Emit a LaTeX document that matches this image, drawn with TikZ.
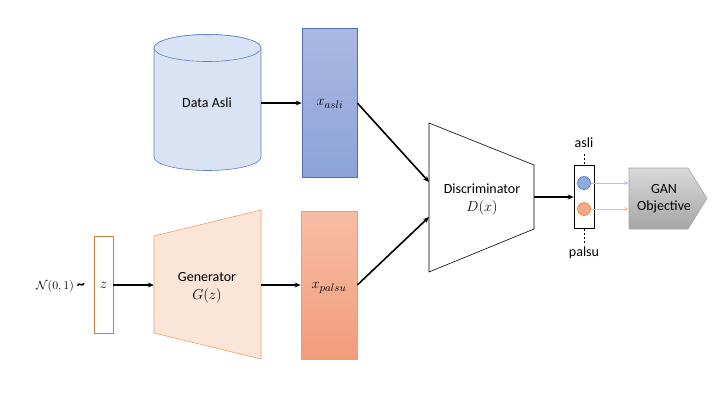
\documentclass[tikz,border=0pt]{standalone}
\usepackage{fontspec}
\setmainfont{Carlito}
\usetikzlibrary{arrows.meta,shapes.geometric}
\definecolor{cylfill}{HTML}{DAE3F3}
\definecolor{cylline}{HTML}{5B80C6}
\definecolor{realtop}{HTML}{AAB9E2}
\definecolor{realbot}{HTML}{8CA3D9}
\definecolor{realline}{HTML}{4F6EB5}
\definecolor{genfill}{HTML}{FBE5D6}
\definecolor{genline}{HTML}{F0A070}
\definecolor{faketop}{HTML}{F6BEA5}
\definecolor{fakebot}{HTML}{F39C7A}
\definecolor{fakeline}{HTML}{E8A070}
\definecolor{zline}{HTML}{D08040}
\definecolor{dotblue}{HTML}{8FAADC}
\definecolor{dotblueline}{HTML}{4472C4}
\definecolor{dotorange}{HTML}{F4A988}
\definecolor{dotorangeline}{HTML}{ED7D31}
\definecolor{ganline}{HTML}{A6A6A6}
\tikzset{
  lbl/.style={font=\fontsize{14}{16}\selectfont, align=center, inner sep=0pt},
  mlbl/.style={font=\fontsize{15}{18}\selectfont, align=center, inner sep=0pt},
  conn/.style={-{Stealth[length=6pt,width=5pt]}, line width=1.6pt, black},
  thinconn/.style={-{Stealth[length=5pt,width=4pt]}, line width=1pt},
  anchorbox/.style={draw=none, inner sep=0pt, minimum width=#1},
  dot/.style={circle, minimum size=13pt, inner sep=0pt, line width=0.6pt}
}
\begin{document}
\begin{tikzpicture}[x=1pt,y=1pt]
\useasboundingbox (0,0) rectangle (720,-405);
\fill[white] (0,0) rectangle (720,-405);

% Cylinder "Data Asli"
\path[fill=cylfill, draw=cylline, line width=0.6pt]
  (154,-48) -- (154,-157) arc[start angle=180, end angle=360, x radius=53.5pt, y radius=13.5pt]
  -- (261,-48) arc[start angle=0, end angle=180, x radius=53.5pt, y radius=13.5pt] -- cycle;
\draw[fill=cylfill, draw=cylline, line width=0.6pt] (207.5,-48) ellipse[x radius=53.5pt, y radius=13.5pt];
\node[anchorbox=107pt, minimum height=100pt] (data) at (207.5,-103) {};
\node[lbl] at (207,-103) {Data Asli};

% x_asli
\node[draw=realline, line width=0.6pt, top color=realtop, bottom color=realbot,
      minimum width=55pt, minimum height=149pt, inner sep=0pt] (xreal) at (329.5,-103) {};
\node[mlbl] at (330,-104) {$x_{asli}$};

% z
\node[draw=zline, line width=0.6pt, fill=white, minimum width=19pt, minimum height=97pt, inner sep=0pt] (z) at (103.5,-285) {};
\node[mlbl] at (103.5,-285) {$z$};
\node[font=\fontsize{13}{16}\selectfont, inner sep=0pt, anchor=east] (noise) at (85,-286) {$\mathcal{N}(0,1)$ {\bfseries\fontsize{16}{18}\selectfont\char"007E}};

% Generator trapezoid
\path[fill=genfill, draw=genline, line width=0.6pt]
  (154,-236) -- (261,-210) -- (261,-359) -- (154,-333) -- cycle;
\node[anchorbox=107pt, minimum height=97pt] (gen) at (207.5,-285) {};
\node[lbl] at (207,-277) {Generator};
\node[mlbl] at (207,-296) {$G(z)$};

% x_palsu
\node[draw=fakeline, line width=0.6pt, top color=faketop, bottom color=fakebot,
      minimum width=56pt, minimum height=148pt, inner sep=0pt] (xfake) at (329,-285) {};
\node[mlbl] at (329,-288) {$x_{palsu}$};

% Discriminator trapezoid
\path[fill=white, draw=black, line width=0.6pt]
  (429,-123) -- (534,-165) -- (534,-229) -- (429,-272) -- cycle;
\node[anchorbox=105pt, minimum height=63pt] (disc) at (481.5,-197) {};
\node[lbl] at (482,-189) {Discriminator};
\node[mlbl] at (482,-208) {$D(x)$};

% output box
\node[draw=black, line width=0.6pt, fill=white, minimum width=20pt, minimum height=63pt, inner sep=0pt] (out) at (584,-197) {};
\node[lbl] (asli) at (584,-143) {asli};
\node[lbl] (palsu) at (584,-253) {palsu};
\coordinate (dtop) at (584,-154);
\coordinate (dbot) at (584,-243);
\draw[line width=0.6pt, dash pattern=on 2pt off 2pt] (dtop) -- (out.north);
\draw[line width=0.6pt, dash pattern=on 2pt off 2pt] (out.south) -- (dbot);
\node[dot, fill=dotblue, draw=dotblueline] (cb) at (584,-183) {};
\node[dot, fill=dotorange, draw=dotorangeline] (co) at (584,-209) {};

% GAN objective
\path[top color=gray!30, bottom color=gray!70, draw=ganline, line width=0.6pt]
  (629,-168) -- (688,-168) -- (707,-198.5) -- (688,-229) -- (629,-229) -- cycle;
\node[anchorbox=78pt, minimum height=61pt] (gan) at (668,-198.5) {};
\node[lbl] at (664,-189) {GAN};
\node[lbl] at (664,-207) {Objective};

% connectors
\draw[conn] (data.east) -- (xreal.west);
\draw[conn] (z.east) -- (gen.west);
\draw[conn] (gen.east) -- (xfake.west);
\draw[conn] (xreal.east) -- (429,-182);
\draw[conn] (xfake.east) -- (429,-217);
\draw[conn] (disc.east) -- (out.west);
\draw[thinconn, color=dotblue!70] (cb.east) -- (gan.west |- cb);
\draw[thinconn, color=dotorange!80] (co.east) -- (gan.west |- co);
\end{tikzpicture}
\end{document}
